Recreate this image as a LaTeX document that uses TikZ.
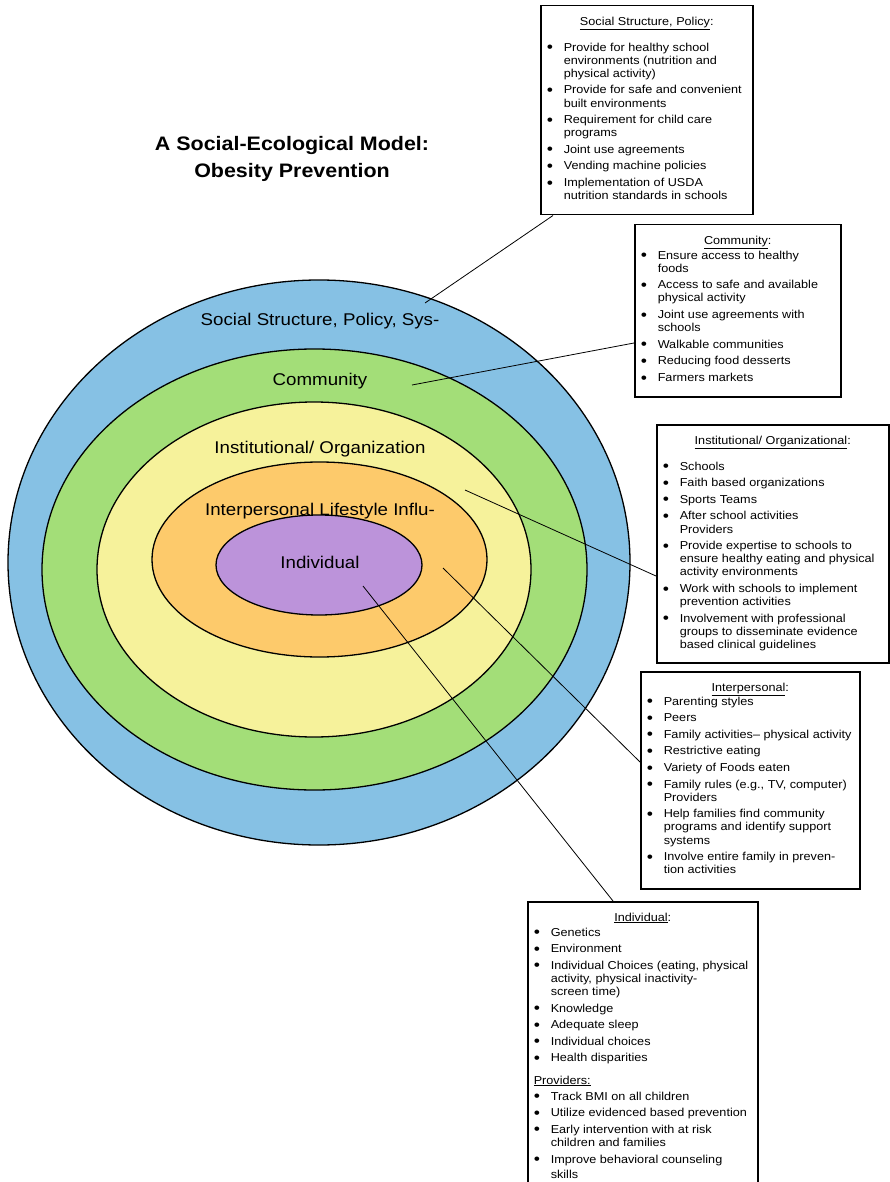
\documentclass[tikz,border=0pt]{standalone}
\usepackage{fontspec}
\usepackage{graphicx}
\setmainfont{Liberation Sans}[FakeStretch=1.1]
\definecolor{policyblue}{HTML}{86C1E4}
\definecolor{communitygreen}{HTML}{A3DE78}
\definecolor{institutionyellow}{HTML}{F6F29B}
\definecolor{interorange}{HTML}{FDCA6B}
\definecolor{individualpurple}{HTML}{BC93DA}
\setlength{\parskip}{0pt}

% bullet list used inside the side boxes
\newcommand{\bigdot}{\raisebox{-1.6pt}{\fontsize{16}{16}\selectfont\textbullet}}
\newenvironment{bullets}{\begin{list}{\bigdot}{%
  \setlength{\leftmargin}{17pt}\setlength{\labelwidth}{8pt}%
  \setlength{\labelsep}{9pt}\setlength{\itemsep}{3.5pt}%
  \setlength{\parsep}{0pt}\setlength{\topsep}{0pt}%
  \setlength{\partopsep}{0pt}\setlength{\rightmargin}{0pt}%
  \renewcommand{\makelabel}[1]{##1\hfil}}}{\end{list}}

% #1 width, #2 height, #3 gap under heading, #4 heading, #5 items
\newcommand{\boxtext}[5]{\parbox[t][#2][t]{#1}{\vspace{6pt}%
  {\centering #4\par}\vspace{#3}\raggedright #5}}

\begin{document}
\begin{tikzpicture}[x=1pt,y=-1pt,
    ring/.style={draw=black,line width=1.3pt},
    ringlabel/.style={font=\fontsize{17}{20}\selectfont},
    infobox/.style={draw=black,line width=1.5pt,fill=white,anchor=north west,
      inner xsep=6pt,inner ysep=5pt,font=\fontsize{11.5}{13.1}\selectfont},
    leader/.style={draw=black,line width=0.8pt}]
  \useasboundingbox (0,0) rectangle (889,1182);

  % rings, outer to inner
  \filldraw[ring,fill=policyblue] (319,562.5) ellipse [x radius=311pt,y radius=282.5pt];
  \filldraw[ring,fill=communitygreen] (314.5,569.5) ellipse [x radius=272.5pt,y radius=220.5pt];
  \filldraw[ring,fill=institutionyellow] (314,569.5) ellipse [x radius=217pt,y radius=167.5pt];
  \filldraw[ring,fill=interorange] (319.5,559.5) ellipse [x radius=167.5pt,y radius=97.5pt];
  \filldraw[ring,fill=individualpurple] (319,565) ellipse [x radius=103pt,y radius=50pt];

  \node[ringlabel] (lpolicy) at (320,321) {Social Structure, Policy, Sys-};
  \node[ringlabel] (lcommunity) at (320,381) {Community};
  \node[ringlabel] (linstitution) at (320,449) {Institutional/ Organization};
  \node[ringlabel] (linter) at (320,511) {Interpersonal Lifestyle Influ-};
  \node[ringlabel] (lindividual) at (320,562) {Individual};

  \node[font=\bfseries\fontsize{19.5}{27}\selectfont,align=center] (title)
    at (292,159) {A Social-Ecological Model:\\Obesity Prevention};

  % side boxes
  \node[infobox] (policy) at (540,5) {\boxtext{200pt}{199pt}{13pt}
    {\underline{Social Structure, Policy}:}{\begin{bullets}
    \item Provide for healthy school\\ environments (nutrition and\\ physical activity)
    \item Provide for safe and convenient\\ built environments
    \item Requirement for child care\\ programs
    \item Joint use agreements
    \item Vending machine policies
    \item Implementation of USDA\\ nutrition standards in schools
    \end{bullets}}};

  \node[infobox] (community) at (634,224) {\boxtext{194pt}{162pt}{2pt}
    {\underline{Community}:}{\begin{bullets}
    \item Ensure access to healthy\\ foods
    \item Access to safe and available\\ physical activity
    \item Joint use agreements with\\ schools
    \item Walkable communities
    \item Reducing food desserts
    \item Farmers markets
    \end{bullets}}};

  \node[infobox] (institution) at (656,424) {\boxtext{220pt}{228pt}{13pt}
    {\underline{Institutional/ Organizational}:}{\begin{bullets}
    \item Schools
    \item Faith based organizations
    \item Sports Teams
    \item After school activities\\ Providers
    \item Provide expertise to schools to\\ ensure healthy eating and physical\\ activity environments
    \item Work with schools to implement\\ prevention activities
    \item Involvement with professional\\ groups to disseminate evidence\\ based clinical guidelines
    \end{bullets}}};

  \node[infobox] (inter) at (640,671) {\boxtext{207pt}{207pt}{1pt}
    {\underline{Interpersonal}:}{\begin{bullets}
    \item Parenting styles
    \item Peers
    \item Family activities– physical activity
    \item Restrictive eating
    \item Variety of Foods eaten
    \item Family rules (e.g., TV, computer)\\ Providers
    \item Help families find community\\ programs and identify support\\ systems
    \item Involve entire family in preven-\\ tion activities
    \end{bullets}}};

  \node[infobox] (individual) at (527,901) {\boxtext{218pt}{290pt}{2pt}
    {\underline{Individual}:}{\begin{bullets}
    \item Genetics
    \item Environment
    \item Individual Choices (eating, physical\\ activity, physical inactivity-\\ screen time)
    \item Knowledge
    \item Adequate sleep
    \item Individual choices
    \item Health disparities
    \end{bullets}\par\vspace{9pt}
    \underline{Providers:}\par\vspace{3pt}
    \begin{bullets}
    \item Track BMI on all children
    \item Utilize evidenced based prevention
    \item Early intervention with at risk\\ children and families
    \item Improve behavioral counseling\\[2pt] skills
    \end{bullets}}};

  % leader lines
  \coordinate (ppolicy) at (425,303);
  \coordinate (pcommunity) at (412,385);
  \coordinate (pinstitution) at (465,490);
  \coordinate (pinter) at (443,568);
  \coordinate (pindividual) at (363,586);
  \draw[leader] (ppolicy) -- ([xshift=13pt]policy.south west);
  \draw[leader] (pcommunity) -- ([yshift=-119pt]community.north west);
  \draw[leader] (pinstitution) -- ([yshift=-152pt]institution.north west);
  \draw[leader] (pinter) -- ([yshift=-91pt]inter.north west);
  \draw[leader] (pindividual) -- ([xshift=86pt]individual.north west);
\end{tikzpicture}
\end{document}
